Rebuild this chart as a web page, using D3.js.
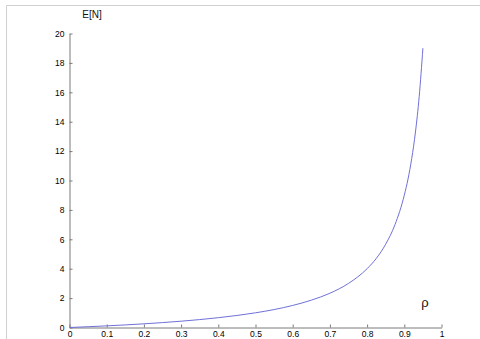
<!DOCTYPE html>
<html>
<head>
<meta charset="utf-8">
<script src="https://cdn.jsdelivr.net/npm/d3@7"></script>
<style>
  body { margin: 0; background: #fff; }
  svg { display: block; font-family: "Liberation Sans", Arial, sans-serif; }
</style>
</head>
<body>
<svg id="chart" width="480" height="339"></svg>
<script>
// values
var rho = [0, 0.05, 0.1, 0.15, 0.2, 0.25, 0.3, 0.35, 0.4, 0.45, 0.5, 0.55, 0.6, 0.65, 0.7,
           0.75, 0.8, 0.825, 0.85, 0.875, 0.9, 0.91, 0.92, 0.93, 0.94, 0.95];
var EN  = [0, 0.053, 0.111, 0.176, 0.25, 0.333, 0.429, 0.538, 0.667, 0.818, 1.0, 1.22, 1.5, 1.86, 2.33,
           3.0, 4.0, 4.71, 5.67, 7.0, 9.0, 10.1, 11.5, 13.3, 15.7, 19.0];
var xTicks = [0, 0.1, 0.2, 0.3, 0.4, 0.5, 0.6, 0.7, 0.8, 0.9, 1];
var yTicks = [0, 2, 4, 6, 8, 10, 12, 14, 16, 18, 20];

var svg = d3.select("#chart");

// light frame round the figure
svg.append("path")
  .attr("d", "M6.5,339 V5.5 H480")
  .attr("fill", "none")
  .attr("stroke", "#d0d0d0");

var x = d3.scaleLinear().domain([0, 1]).range([69.5, 441.5]);
var y = d3.scaleLinear().domain([0, 20]).range([327.5, 33.5]);

var axisColor = "#7a7a7a";

var xAxis = svg.append("g")
  .attr("transform", "translate(0," + y(0) + ")")
  .call(d3.axisBottom(x).tickValues(xTicks).tickSize(-3).tickSizeOuter(0)
        .tickFormat(d3.format("")));
var yAxis = svg.append("g")
  .attr("transform", "translate(" + x(0) + ",0)")
  .call(d3.axisLeft(y).tickValues(yTicks).tickSize(-3).tickSizeOuter(0));

[xAxis, yAxis].forEach(function(a){
  a.select(".domain").attr("stroke", axisColor);
  a.selectAll(".tick line").attr("stroke", axisColor);
  a.selectAll(".tick text").attr("fill", "#000").style("font-size", "8.5px");
});
xAxis.selectAll(".tick text").attr("y", 3.5);
yAxis.selectAll(".tick text").attr("x", -5);

var line = d3.line()
  .x(function(d, i){ return x(rho[i]); })
  .y(function(d){ return y(d); })
  .curve(d3.curveMonotoneX);

svg.append("path")
  .datum(EN)
  .attr("fill", "none")
  .attr("stroke", "#7070d8")
  .attr("stroke-width", 1)
  .attr("d", line);

svg.append("text")
  .attr("x", 92).attr("y", 18)
  .attr("text-anchor", "middle")
  .style("font-size", "10px")
  .attr("fill", "#111")
  .text("E[N]");

svg.append("text")
  .attr("x", 425).attr("y", 307)
  .attr("text-anchor", "middle")
  .style("font-size", "13px")
  .attr("fill", "#111")
  .text("ρ");
</script>
</body>
</html>
